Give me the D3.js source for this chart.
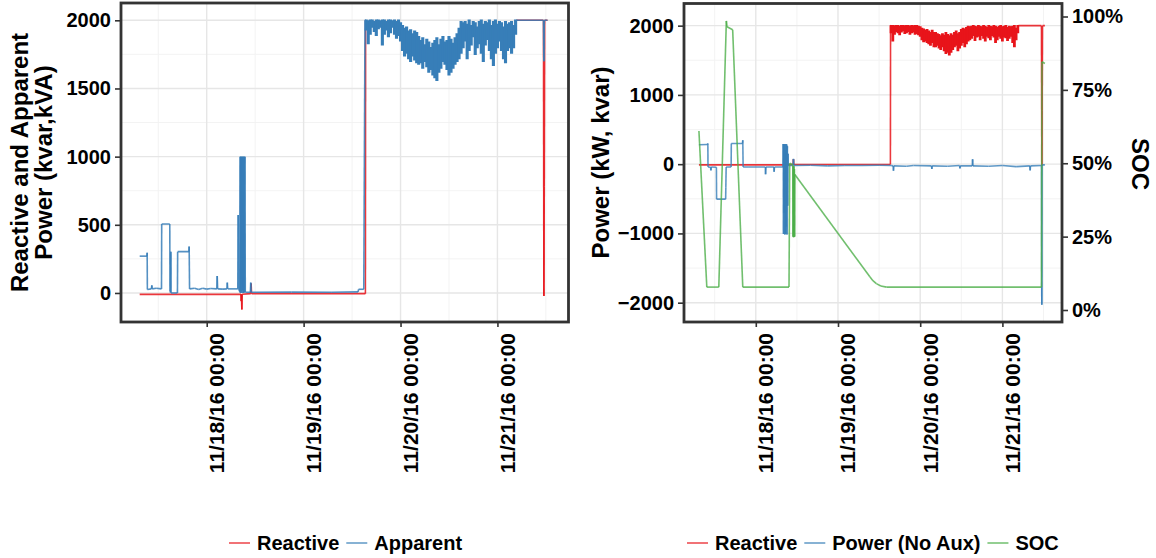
<!DOCTYPE html>
<html>
<head>
<meta charset="utf-8">
<script src="https://cdn.jsdelivr.net/npm/d3@7"></script>
<style>
body { margin: 0; background: #fff; }
text { font-family: "Liberation Sans", Arial, sans-serif; font-weight: bold; fill: #000; }
</style>
</head>
<body>
<svg id="chart" width="1156" height="558"></svg>
<script>
// hours counted from 11/17/16 00:00
var tickHours = [24, 48, 72, 96];
var minorHours = [12, 36, 60, 84, 108];
var leftTicks = [0, 500, 1000, 1500, 2000];
var leftMinor = [250, 750, 1250, 1750];
var rightTicks = [-2000, -1000, 0, 1000, 2000];
var rightMinor = [-1500, -500, 500, 1500];
var socTicks = [0, 0.25, 0.5, 0.75, 1];

// noisy full-power stretch: max / min seen in each half hour, from 63.5 h
var bandStart = 63.5, bandStep = 0.5;
var apparentHi = [
    2000, 1995, 2000, 2000, 1990, 2000, 2000, 1995, 2000, 2000, 1990, 2000, 2000, 1995, 2000, 1990, 2000, 1980,
    1960, 1940, 1950, 1920, 1930, 1900, 1920, 1910,
    1880, 1850, 1870, 1820, 1860, 1840, 1800, 1830, 1850, 1870, 1820, 1860, 1880, 1840, 1850, 1880, 1860, 1830, 1870, 1900, 1940,
    1990, 1980, 1990, 1970, 2000, 1960, 1990, 1980, 1950, 1990, 2000, 1970, 1990, 1980, 2000, 1960, 1990, 2000, 1970, 1990, 1980,
    1950, 1990, 1970, 1980, 1990, 1960,
    2000
];
var apparentLo = [
    1930, 1830, 1900, 1950, 1920, 1890, 1940, 1950, 1820, 1900, 1930, 1880, 1910, 1950, 1900, 1870, 1890, 1850,
    1780, 1740, 1760, 1720, 1700, 1740, 1710, 1690,
    1680, 1690, 1650, 1700, 1660, 1620, 1640, 1600, 1580, 1560, 1620, 1650, 1700, 1680, 1640, 1600, 1620, 1650, 1680, 1700, 1720,
    1760, 1800, 1850, 1720, 1780, 1820, 1880, 1750, 1800, 1830, 1760, 1700, 1820, 1860, 1780, 1720, 1670, 1760, 1800, 1850, 1780,
    1720, 1690, 1780, 1800, 1760, 1800,
    1900
];
var reactiveHi = [
    2000, 2000, 1995, 2000, 2000, 1990, 2000, 2000, 1995, 2000, 2000, 1990, 2000, 1995, 2000, 2000, 1990, 1980,
    1960, 1950, 1930, 1940, 1920, 1900, 1930, 1900,
    1900, 1880, 1870, 1850, 1880, 1860, 1900, 1870, 1850, 1880, 1860, 1900, 1920, 1880, 1900, 1940, 1960, 1950, 1970, 1990, 1980,
    1990, 2000, 1990, 1980, 2000, 1990, 1980, 2000, 1990, 1970, 2000, 1990, 1980, 2000, 1990, 1970, 1990, 2000, 1980, 1990, 2000,
    1970, 1990, 1980, 1990, 2000, 1960,
    2000
];
var reactiveLo = [
    1900, 1780, 1880, 1920, 1900, 1870, 1910, 1930, 1890, 1900, 1920, 1880, 1900, 1910, 1880, 1890, 1870, 1850,
    1800, 1770, 1780, 1760, 1740, 1720, 1760, 1700,
    1700, 1720, 1680, 1660, 1700, 1640, 1600, 1620, 1580, 1620, 1660, 1700, 1720, 1640, 1680, 1720, 1760, 1700, 1740, 1780, 1800,
    1820, 1860, 1790, 1840, 1850, 1800, 1860, 1820, 1780, 1850, 1830, 1800, 1860, 1840, 1760, 1800, 1850, 1820, 1780, 1840, 1830,
    1790, 1820, 1850, 1760, 1700, 1800,
    1900
];

var apparentHead = [
    [7.4, 270], [9.2, 270], [9.25, 295], [9.3, 25], [10.3, 30], [10.4, 55], [10.5, 30], [11.5, 35], [12.8, 30],
    [12.85, 506], [14.85, 506], [14.9, 10], [15.05, 5], [15.1, 303], [15.15, 0], [16.75, 0], [16.8, 303],
    [19.6, 303], [19.65, 340], [19.75, 30], [21, 35], [22, 25], [23, 35], [24, 28], [25, 33], [26.5, 30],
    [26.6, 125], [26.7, 30], [28, 28], [29.0, 30], [29.1, 76], [29.2, 30], [31.7, 30], [31.8, 572], [31.9, 30],
    [32.2, 10], [32.3, 1000], [32.35, 0], [32.45, 1000], [32.55, 10], [32.65, 1000], [32.75, 0], [32.85, 1000],
    [32.95, 20], [33.05, 1000], [33.15, 0], [33.25, 1000], [33.35, 5], [33.45, 1000], [33.55, 5],
    [34.8, 5], [34.9, 76], [35.0, 5], [45, 6], [55, 5], [61.5, 8], [61.6, 27], [62.9, 27], [63.2, 2000], [63.4, 2000]
];
var apparentTail = [[100.7, 2000], [107.4, 2000], [107.5, 1700], [107.6, 2000], [108.4, 2000]];

var reactiveHead = [
    [7.4, -10], [32.5, -10], [32.55, -60], [32.6, -10], [32.7, -122], [32.8, -10],
    [34.9, -5], [35.0, 70], [35.1, -5], [63.3, -5], [63.35, 2000], [63.4, 2000]
];
var reactiveTail = [[100.7, 2000], [107.4, 2000], [107.5, -22], [107.6, 780], [107.7, 2000], [108.4, 2000]];

var powerPts = [
    [7.4, 280], [9.9, 285], [10.0, 300], [10.05, -40], [10.8, -45], [10.9, -90], [11.0, -40], [12.5, -45],
    [12.55, -505], [15.2, -505], [15.25, -340], [15.35, -40], [16.8, -40], [16.85, 298], [20.1, 298],
    [20.2, 345], [20.3, -40], [22.0, -40], [26.8, -40], [26.85, -145], [26.95, -40], [29.3, -40],
    [29.35, -110], [29.45, -40], [31.95, -40],
    [32.0, 290], [32.1, -1010], [32.2, 285], [32.3, -700], [32.4, 290], [32.5, -1015], [32.6, 200],
    [32.7, -1010], [32.8, 290], [32.9, -900], [33.0, 285], [33.1, -1015], [33.2, 260], [33.3, -600],
    [33.4, 150], [33.5, -20],
    [34.9, -20], [35.0, 76], [35.1, -20], [40, -15], [45, -25], [50, -20], [55, -20], [60, -15],
    [63.5, -20], [64.1, -25], [64.2, -95], [64.3, -25], [68, -30], [70, -20], [75.3, -25], [75.4, -70],
    [75.5, -25], [80, -30], [83.5, -20], [83.6, -60], [83.7, -25], [87.2, -25], [87.3, 72], [87.4, -25],
    [92, -30], [96, -20], [100, -35], [104, -25], [104.1, -90], [104.2, -25], [107.4, -20],
    [107.5, -2030], [107.6, -10], [108.4, -10]
];

var socPts = [
    [7.4, 0.61], [9.7, 0.078], [13.2, 0.078], [15.4, 0.985], [15.6, 0.965], [17.25, 0.955], [20.2, 0.078],
    [33.7, 0.078], [33.9, 0.50], [34.8, 0.495], [34.9, 0.25], [34.97, 0.49], [35.04, 0.248], [35.11, 0.49],
    [35.18, 0.25], [35.25, 0.48], [35.32, 0.25], [35.4, 0.462], [57.3, 0.113], [58.2, 0.10], [59.2, 0.09],
    [60.5, 0.082], [62.2, 0.078], [107.4, 0.078], [107.55, 0.846], [108.4, 0.84]
];

var RED = '#e8141a', BLUE = '#377eb8', GREEN = '#4daf4a';

var t0 = new Date(2016, 10, 17, 0, 0);
function toDate(h) { return new Date(t0.getTime() + h * 3600000); }
var fmt = d3.timeFormat('%m/%d/%y %H:%M');

var svg = d3.select('#chart');
svg.append('rect').attr('width', 1156).attr('height', 558).attr('fill', '#fff');

function makePanel(cfg) {
    var x = d3.scaleTime()
        .domain([toDate(cfg.hours[0]), toDate(cfg.hours[1])])
        .range([cfg.left, cfg.right]);
    var y = d3.scaleLinear().domain(cfg.yDomain).range([cfg.bottom, cfg.top]);
    var g = svg.append('g');

    g.append('clipPath').attr('id', cfg.id + '-clip')
        .append('rect')
        .attr('x', cfg.left).attr('y', cfg.top)
        .attr('width', cfg.right - cfg.left).attr('height', cfg.bottom - cfg.top);

    var grid = g.append('g');
    grid.selectAll('.vmin').data(minorHours).enter().append('line')
        .attr('x1', function(d) { return x(toDate(d)); }).attr('x2', function(d) { return x(toDate(d)); })
        .attr('y1', cfg.top).attr('y2', cfg.bottom)
        .attr('stroke', '#f2f2f2').attr('stroke-width', 0.9);
    grid.selectAll('.hmin').data(cfg.minor).enter().append('line')
        .attr('y1', function(d) { return y(d); }).attr('y2', function(d) { return y(d); })
        .attr('x1', cfg.left).attr('x2', cfg.right)
        .attr('stroke', '#f2f2f2').attr('stroke-width', 0.9);
    grid.selectAll('.vmaj').data(tickHours).enter().append('line')
        .attr('x1', function(d) { return x(toDate(d)); }).attr('x2', function(d) { return x(toDate(d)); })
        .attr('y1', cfg.top).attr('y2', cfg.bottom)
        .attr('stroke', '#e6e6e6').attr('stroke-width', 1.4);
    grid.selectAll('.hmaj').data(cfg.ticks).enter().append('line')
        .attr('y1', function(d) { return y(d); }).attr('y2', function(d) { return y(d); })
        .attr('x1', cfg.left).attr('x2', cfg.right)
        .attr('stroke', '#e6e6e6').attr('stroke-width', 1.4);

    var data = g.append('g').attr('clip-path', 'url(#' + cfg.id + '-clip)');

    var yAxis = g.append('g')
        .attr('transform', 'translate(' + cfg.left + ',0)')
        .call(d3.axisLeft(y).tickValues(cfg.ticks).tickSize(6).tickPadding(4).tickFormat(d3.format('d')));
    styleAxis(yAxis, 20);

    var xAxis = g.append('g')
        .attr('transform', 'translate(0,' + cfg.bottom + ')')
        .call(d3.axisBottom(x).tickValues(tickHours.map(toDate)).tickSize(5).tickFormat(fmt));
    styleAxis(xAxis, 21);
    xAxis.selectAll('text')
        .attr('transform', 'rotate(-90)')
        .attr('text-anchor', 'end')
        .attr('x', -11).attr('y', 17).attr('dy', 0);

    return {x: x, y: y, g: g, data: data, cfg: cfg};
}

function styleAxis(sel, size) {
    sel.select('.domain').remove();
    sel.selectAll('.tick line').attr('stroke', '#333').attr('stroke-width', 1.6);
    sel.selectAll('text').attr('fill', '#000').style('font-size', size + 'px')
        .attr('font-family', null);
}

function drawSeries(panel, pts, yScale, color, opacity) {
    panel.data.append('g').selectAll('line')
        .data(d3.pairs(pts))
        .enter().append('line')
        .attr('x1', function(d) { return panel.x(toDate(d[0][0])); })
        .attr('y1', function(d) { return yScale(d[0][1]); })
        .attr('x2', function(d) { return panel.x(toDate(d[1][0])); })
        .attr('y2', function(d) { return yScale(d[1][1]); })
        .attr('stroke', color)
        .attr('stroke-opacity', opacity)
        .attr('stroke-width', 1.6);
}

// dense stretch drawn as one min-max stroke per half hour
function drawBand(panel, hi, lo, yScale, color) {
    var w = panel.x(toDate(bandStart + bandStep)) - panel.x(toDate(bandStart)) + 1.1;
    panel.data.append('g').selectAll('line')
        .data(hi)
        .enter().append('line')
        .attr('x1', function(d, i) { return panel.x(toDate(bandStart + i * bandStep)); })
        .attr('x2', function(d, i) { return panel.x(toDate(bandStart + i * bandStep)); })
        .attr('y1', function(d) { return yScale(d) - 0.7; })
        .attr('y2', function(d, i) { return yScale(lo[i]) + 0.7; })
        .attr('stroke', color)
        .attr('stroke-width', w);
}

function drawFrame(panel) {
    var c = panel.cfg;
    panel.g.append('rect')
        .attr('x', c.left).attr('y', c.top)
        .attr('width', c.right - c.left).attr('height', c.bottom - c.top)
        .attr('fill', 'none').attr('stroke', '#333').attr('stroke-width', 2.8);
}

function drawLegend(items, startX, yMid) {
    var lg = svg.append('g');
    var cx = startX;
    items.forEach(function(it) {
        lg.append('line')
            .attr('x1', cx).attr('x2', cx + 21)
            .attr('y1', yMid).attr('y2', yMid)
            .attr('stroke', it.color).attr('stroke-opacity', 0.6).attr('stroke-width', 2);
        var t = lg.append('text')
            .attr('x', cx + 28).attr('y', yMid + 7)
            .style('font-size', '20px')
            .text(it.label);
        cx += 28 + t.node().getComputedTextLength() + 7;
    });
}

// left panel: reactive (hidden under apparent while at full power) and apparent
var left = makePanel({
    id: 'left', left: 121, right: 568.5, top: 3, bottom: 322,
    hours: [2.77, 113.6], yDomain: [-213, 2127],
    ticks: leftTicks, minor: leftMinor
});
drawSeries(left, reactiveHead, left.y, RED, 0.85);
drawSeries(left, reactiveTail, left.y, RED, 0.85);
drawSeries(left, apparentHead, left.y, BLUE, 0.85);
drawSeries(left, apparentTail, left.y, BLUE, 0.85);
drawBand(left, apparentHi, apparentLo, left.y, BLUE);
drawFrame(left);

left.g.append('text')
    .attr('transform', 'translate(28,162.5) rotate(-90)')
    .attr('text-anchor', 'middle').style('font-size', '24px')
    .text('Reactive and Apparent');
left.g.append('text')
    .attr('transform', 'translate(52,162.5) rotate(-90)')
    .attr('text-anchor', 'middle').style('font-size', '24px')
    .text('Power (kvar,kVA)');

// right panel: reactive, power and SOC
var right = makePanel({
    id: 'right', left: 684, right: 1062, top: 3.5, bottom: 322,
    hours: [3.04, 113.4], yDomain: [-2279, 2320],
    ticks: rightTicks, minor: rightMinor
});
var soc = d3.scaleLinear().domain([0, 1]).range([310, 16.5]);
drawSeries(right, reactiveHead, right.y, RED, 0.85);
drawSeries(right, reactiveTail, right.y, RED, 0.85);
drawBand(right, reactiveHi, reactiveLo, right.y, RED);
drawSeries(right, powerPts, right.y, BLUE, 0.8);
drawSeries(right, socPts, soc, GREEN, 0.8);
drawFrame(right);

var socAxis = right.g.append('g')
    .attr('transform', 'translate(1062,0)')
    .call(d3.axisRight(soc).tickValues(socTicks).tickSize(6).tickPadding(4).tickFormat(d3.format('.0%')));
styleAxis(socAxis, 20);

right.g.append('text')
    .attr('transform', 'translate(609,162.5) rotate(-90)')
    .attr('text-anchor', 'middle').style('font-size', '24px')
    .text('Power (kW, kvar)');
right.g.append('text')
    .attr('transform', 'translate(1132,164) rotate(90)')
    .attr('text-anchor', 'middle').style('font-size', '24px')
    .text('SOC');

drawLegend([{label: 'Reactive', color: RED}, {label: 'Apparent', color: BLUE}], 229, 543);
drawLegend([{label: 'Reactive', color: RED}, {label: 'Power (No Aux)', color: BLUE},
            {label: 'SOC', color: GREEN}], 687, 543);
</script>
</body>
</html>
